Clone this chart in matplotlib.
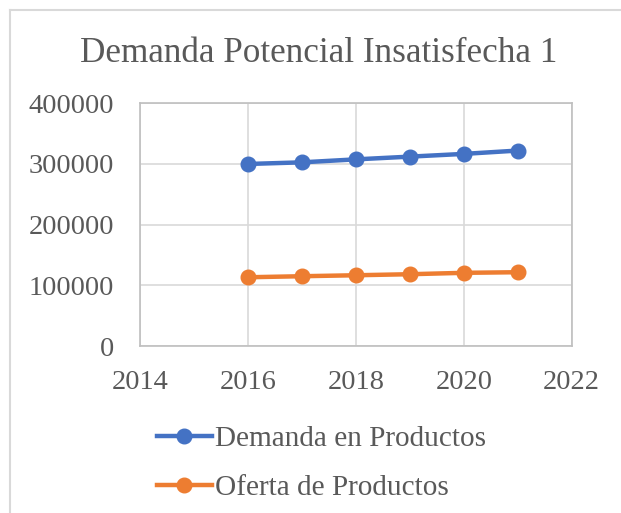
import matplotlib
matplotlib.use("Agg")
import matplotlib.pyplot as plt
from matplotlib.lines import Line2D

years = [2016, 2017, 2018, 2019, 2020, 2021]
demanda = [300000, 302700, 307600, 312100, 316600, 322100]
oferta = [113300, 115000, 116600, 118300, 120600, 121600]
series_names = ["Demanda en Productos", "Oferta de Productos"]
title = "Demanda Potencial Insatisfecha 1"
xticks = [2014, 2016, 2018, 2020, 2022]
yticks = [0, 100000, 200000, 300000, 400000]

plt.rcParams['font.family'] = ['Liberation Serif', 'DejaVu Serif']
txt = '#595959'
blue = '#4472C4'
orange = '#ED7D31'

fig = plt.figure(figsize=(6.21, 5.13), dpi=100)
ax = fig.add_axes([140/621, 1-346/513, (571.7-140)/621, (346-103.3)/513])

ax.plot(years, demanda, color=blue, lw=3.2, marker='o', ms=10.5, label=series_names[0], solid_capstyle='round')
ax.plot(years, oferta, color=orange, lw=3.2, marker='o', ms=10.5, label=series_names[1], solid_capstyle='round')

ax.set_xlim(2014, 2022)
ax.set_ylim(0, 400000)
ax.set_xticks(xticks)
ax.set_yticks(yticks)
ax.set_xticklabels([str(v) for v in xticks])
ax.set_yticklabels([str(v) for v in yticks])
ax.grid(True, color='#D9D9D9', lw=1.2)
ax.set_axisbelow(True)
for s in ax.spines.values():
    s.set_color('#BFBFBF')
    s.set_linewidth(1.2)
ax.tick_params(length=0, labelsize=20.5, colors=txt)
ax.tick_params(axis='y', pad=18.5)
ax.tick_params(axis='x', pad=17)

fig.text(318.5/621, 1-53/513, title, ha='center', va='center', fontsize=25.3, color=txt)

handles = [Line2D([], [], color=blue, lw=3.2, marker='o', ms=10.5),
           Line2D([], [], color=orange, lw=3.2, marker='o', ms=10.5)]
leg = fig.legend(handles, series_names, loc='upper left', bbox_to_anchor=(145/621, 1-414/513),
                 frameon=False, fontsize=21.1, handlelength=1.88, handletextpad=0.1,
                 labelspacing=0.77, borderaxespad=0)
for t in leg.get_texts():
    t.set_color(txt)

# chart outer border (left and top visible)
fig.add_artist(Line2D([9.5/621, 9.5/621], [0, 1-9.5/513], transform=fig.transFigure, color='#D9D9D9', lw=1.5))
fig.add_artist(Line2D([9.5/621, 1], [1-9.5/513, 1-9.5/513], transform=fig.transFigure, color='#D9D9D9', lw=1.5))

fig.savefig('out.png', dpi=100)
